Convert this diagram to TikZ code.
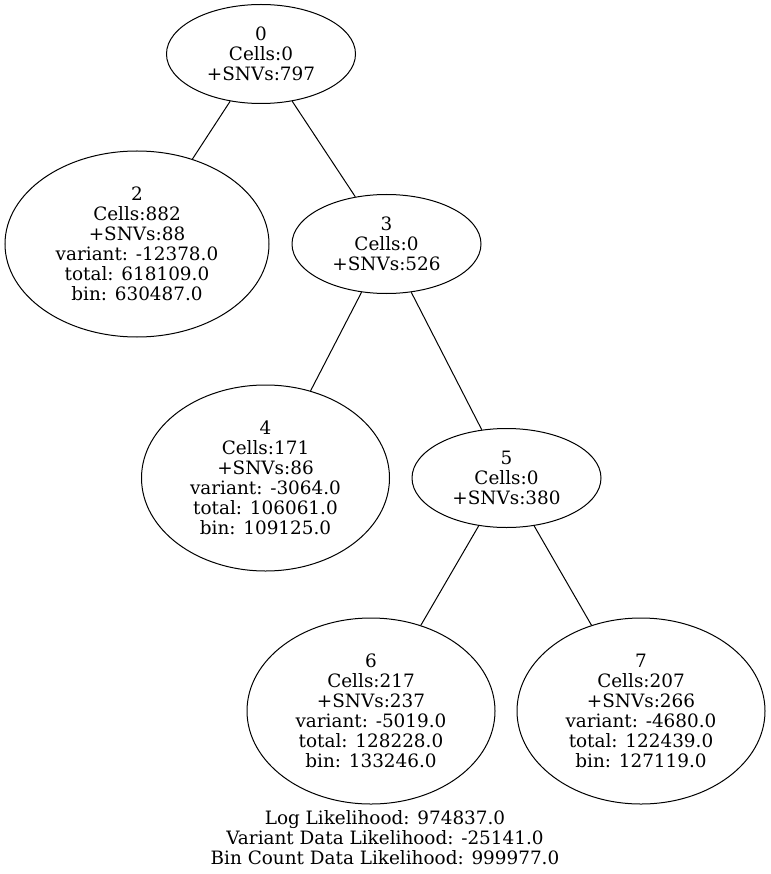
\documentclass[tikz,border=0pt]{standalone}
\usepackage{fontspec}
\setmainfont{DejaVu Serif}
\usetikzlibrary{shapes.geometric}
\begin{document}
\begin{tikzpicture}[x=1pt,y=-1pt,
  txt/.style={font=\fontsize{18.4}{19.9}\selectfont, align=center},
  small/.style={ellipse, draw, line width=1pt, inner sep=0pt, minimum width=189pt, minimum height=99pt, txt},
  big/.style={ellipse, draw, line width=1pt, inner sep=0pt, minimum width=248pt, minimum height=186pt, txt},
  edge/.style={line width=1pt}]
\useasboundingbox (0,0) rectangle (770,874);
\node[small] (n0) at (261,54) {0\\Cells:0\\+SNVs:797};
\node[big, minimum width=264pt] (n2) at (137,244) {2\\Cells:882\\+SNVs:88\\variant: -12378.0\\total: 618109.0\\bin: 630487.0};
\node[small] (n3) at (386.5,244) {3\\Cells:0\\+SNVs:526};
\node[big] (n4) at (265.5,478) {4\\Cells:171\\+SNVs:86\\variant: -3064.0\\total: 106061.0\\bin: 109125.0};
\node[small] (n5) at (506.5,478) {5\\Cells:0\\+SNVs:380};
\node[big] (n6) at (371,711) {6\\Cells:217\\+SNVs:237\\variant: -5019.0\\total: 128228.0\\bin: 133246.0};
\node[big] (n7) at (641,711) {7\\Cells:207\\+SNVs:266\\variant: -4680.0\\total: 122439.0\\bin: 127119.0};
\draw[edge] (n0) -- (n2);
\draw[edge] (n0) -- (n3);
\draw[edge] (n3) -- (n4);
\draw[edge] (n3) -- (n5);
\draw[edge] (n5) -- (n6);
\draw[edge] (n5) -- (n7);
\node[txt, inner sep=0pt] (lbl) at (385,838) {Log Likelihood: 974837.0\\Variant Data Likelihood: -25141.0\\Bin Count Data Likelihood: 999977.0};
\end{tikzpicture}
\end{document}
